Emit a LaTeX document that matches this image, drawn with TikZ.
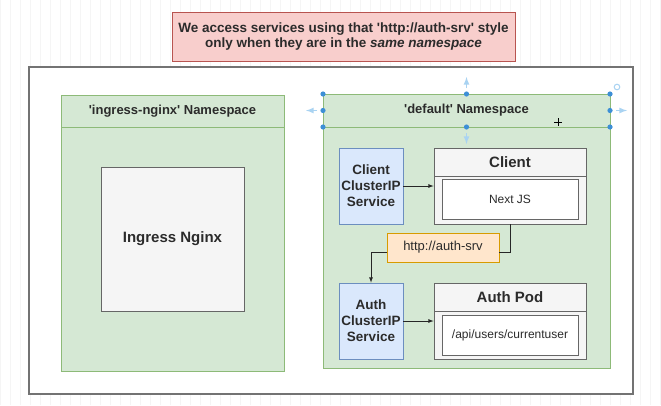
\documentclass[tikz,border=0pt]{standalone}
\usepackage{fontspec}
\newfontfamily\diafont{Liberation Sans}
\usetikzlibrary{arrows,positioning}
\definecolor{notefill}{HTML}{F8CECC}
\definecolor{noteline}{HTML}{B85450}
\definecolor{nsfill}{HTML}{D5E8D4}
\definecolor{nsline}{HTML}{8DBA78}
\definecolor{podfill}{HTML}{F5F5F5}
\definecolor{podline}{HTML}{666666}
\definecolor{svcfill}{HTML}{DAE8FC}
\definecolor{svcline}{HTML}{6C8EBF}
\definecolor{urlfill}{HTML}{FFE6CC}
\definecolor{urlline}{HTML}{D79B00}
\definecolor{txt}{HTML}{2B2B2B}
\definecolor{handle}{HTML}{3D8FD6}
\definecolor{handlearr}{HTML}{A9D3F2}

\tikzset{
	box/.style={rectangle, inner sep=0pt, line width=0.8pt, text=txt, align=center, font=\diafont},
	note/.style={box, draw=noteline, fill=notefill, minimum width=343, minimum height=49, font=\diafont\bfseries\fontsize{13.5}{15.5}\selectfont},
	nsbox/.style={box, draw=nsline, fill=nsfill},
	nshead/.style={box, draw=nsline, fill=nsfill, font=\diafont\bfseries\fontsize{13}{15}\selectfont},
	podbox/.style={box, draw=podline, fill=podfill, minimum width=152, minimum height=76},
	podhead/.style={box, draw=podline, fill=podfill, minimum width=152, minimum height=28, font=\diafont\bfseries\fontsize{15}{18}\selectfont},
	inbox/.style={box, draw=podline, fill=white, minimum width=136, minimum height=40, font=\diafont\fontsize{12}{14}\selectfont},
	svcbox/.style={box, draw=svcline, fill=svcfill, minimum width=64, minimum height=76, font=\diafont\bfseries\fontsize{13.5}{16}\selectfont},
	urlbox/.style={box, draw=urlline, fill=urlfill, minimum width=112, minimum height=29, font=\diafont\fontsize{13}{15}\selectfont},
	wire/.style={draw=black!85, line width=0.8pt},
	dot/.style={fill=handle, draw=none},
	harrow/.style={-latex, draw=handlearr, line width=1.6pt}
}

\begin{document}
\begin{tikzpicture}[x=1pt, y=-1pt, >=latex]
	\useasboundingbox (0,0) rectangle (661,405);
	\fill[white] (0,0) rectangle (661,405);
	\draw[black!4, step=10] (0,0) grid (661,405);

	% heading note
	\node[note] (note) at (343.5,36.5) {We access services using that 'http://auth-srv' style\\only when they are in the \textit{same namespace}};

	% cluster
	\node[box, draw=black!55, fill=white, line width=1.1pt, minimum width=604, minimum height=327] (cluster) at (331,230.5) {};

	% ingress-nginx namespace
	\node[nsbox, minimum width=223, minimum height=276] (nsingress) at (172.5,233) {};
	\node[nshead, minimum width=223, minimum height=32] (ingresshead) at (172.5,111) {'ingress-nginx' Namespace};
	\node[box, draw=podline, fill=podfill, minimum width=143, minimum height=144, font=\diafont\bfseries\fontsize{15}{18}\selectfont] (ingress) at (172.5,239) {Ingress Nginx};

	% default namespace
	\node[nsbox, minimum width=287, minimum height=274] (nsdefault) at (466.5,231) {};
	\node[nshead, minimum width=287, minimum height=33] (defaulthead) at (466.5,110.5) {'default' Namespace};

	% client
	\node[svcbox] (clientsvc) at (371,186) {Client\\ClusterIP\\Service};
	\node[podbox] (clientpod) at (510,186) {};
	\node[podhead] (clienthead) at (510,162) {Client};
	\node[inbox] (nextjs) at (510,199) {Next JS};

	% auth
	\node[svcbox] (authsvc) at (371,321) {Auth\\ClusterIP\\Service};
	\node[podbox] (authpod) at (510,321) {};
	\node[podhead] (authhead) at (510,297) {Auth Pod};
	\node[inbox] (authapi) at (510,335) {/api/users/currentuser};

	\node[urlbox] (url) at (443,247.5) {http://auth-srv};

	\draw[wire, ->] (clientsvc) -- (clientpod);
	\draw[wire, ->] (authsvc) -- (authpod);
	\draw[wire] (clientpod.south) |- ([yshift=-5pt]url.east);
	\draw[wire, ->] ([yshift=-5pt]url.west) -| (authsvc.north);

	% selection handles
	\foreach \hx in {323,466.5,610}
		\foreach \hy in {94,127}
			\fill[dot] (\hx,\hy) circle (2.6);
	\fill[dot] (323,110.5) circle (2.6);
	\fill[dot] (610,110.5) circle (2.6);
	\draw[harrow] (466.5,88) -- (466.5,77);
	\draw[harrow] (466.5,133) -- (466.5,144);
	\draw[harrow] (317,110.5) -- (306,110.5);
	\draw[harrow] (616,110.5) -- (627,110.5);
	\draw[handlearr, line width=1pt] (617,87) circle (2.8);
	\draw[black, line width=0.9pt] (554,122) -- (562,122) (558,118) -- (558,126);
\end{tikzpicture}
\end{document}
